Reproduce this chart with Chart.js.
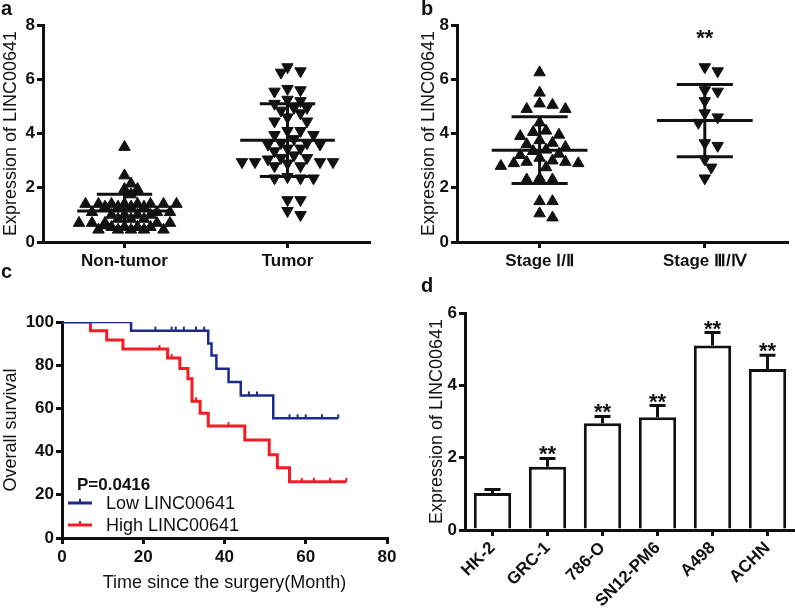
<!DOCTYPE html>
<html>
<head>
<meta charset="utf-8">
<script src="https://cdn.jsdelivr.net/npm/chart.js@4.4.1/dist/chart.umd.min.js"></script>
<style>
  html, body { margin: 0; padding: 0; background: #fff; }
  #wrap { position: relative; width: 795px; height: 614px; overflow: hidden; }
  canvas { position: absolute; }
  .tag { position: absolute; font: bold 20px "Liberation Sans", Arial, sans-serif; line-height: 1; color: #111; }
</style>
</head>
<body>
<div id="wrap">
  <canvas id="chartA" width="390" height="300" style="left:0;top:0"></canvas>
  <canvas id="chartB" width="395" height="300" style="left:400px;top:0"></canvas>
  <canvas id="chartC" width="400" height="309" style="left:0;top:305px"></canvas>
  <canvas id="chartD" width="395" height="324" style="left:400px;top:290px"></canvas>
  <div class="tag" style="left:1px;top:-2px">a</div>
  <div class="tag" style="left:421px;top:-2px">b</div>
  <div class="tag" style="left:1px;top:261px">c</div>
  <div class="tag" style="left:421px;top:275px">d</div>
</div>
<script>
// ---- data ----
const catsA = ["Non-tumor", "Tumor"];
const nonTumor = [3.5, 2.45, 2.15, 1.95, 1.95, 1.75,
  1.4, 1.4, 1.4, 1.4, 1.4, 1.4, 1.4, 1.4,
  1.3, 1.3, 1.3, 1.3, 1.1, 1.1, 1.1, 1.0, 1.0, 1.0, 1.0,
  0.85, 0.85, 0.85, 0.7, 0.7, 0.7, 0.7, 0.7,
  0.55, 0.55, 0.55, 0.55, 0.45, 0.45, 0.45, 0.45, 0.45];
const tumor = [6.45, 6.3, 6.25, 5.65, 5.55, 5.6, 5.2, 5.25, 5.1,
  4.95, 4.95, 4.85, 4.75, 4.6, 4.45, 4.45, 4.1, 4.1, 3.95, 3.95, 3.8,
  3.65, 3.65, 3.6, 3.6, 3.45, 3.45, 3.35, 3.2, 3.1, 3.1, 3.05,
  2.95, 2.95, 2.95, 2.95, 2.8, 2.8, 2.9, 2.4, 2.35, 2.35, 2.35,
  1.55, 1.55, 1.15, 1.0];

const catsB = ["Stage Ⅰ/Ⅱ", "Stage Ⅲ/Ⅳ"];
const stage12 = [6.25, 5.5, 5.1, 5.05, 4.9, 4.9, 4.4, 4.1, 4.05, 3.95,
  3.9, 3.75, 3.65, 3.6, 3.5, 3.4, 3.35, 3.25, 3.2, 3.1, 3.0,
  2.95, 2.95, 2.9, 2.9, 2.8, 2.75, 2.35, 2.3, 2.3, 1.5, 1.5, 1.05, 0.9];
const stage34 = [6.45, 6.3, 5.6, 5.55, 5.2, 4.75, 4.6, 4.4, 3.65, 3.55, 3.05, 2.75, 2.35];
const starsB = ["", "**"];

const lowTime = [0, 17, 36, 36.8, 38, 41, 44, 52, 68];
const lowSurv = [100, 96, 90.1, 84.5, 78.3, 72.2, 66, 55.4, 55.4];
const lowCensor = [23, 27, 28, 30, 33, 35, 46, 48, 56, 58, 60, 64, 68];
const highTime = [0, 7, 11, 15, 26, 29, 31, 32, 34, 36, 45, 51, 53, 56, 70];
const highSurv = [100, 96, 91.7, 87.5, 83.3, 78.5, 73.7, 63.3, 57.7, 51.8, 45.4, 38.5, 32.5, 26, 26];
const highCensor = [24, 27, 33, 41, 59, 62, 66, 70];
const pValue = "P=0.0416";

const cellLines = ["HK-2", "GRC-1", "786-O", "SN12-PM6", "A498", "ACHN"];
const cellMean = [1.02, 1.75, 2.95, 3.12, 5.1, 4.45];
const cellErr = [0.1, 0.23, 0.19, 0.32, 0.36, 0.38];
const cellStars = ["", "**", "**", "**", "**", "**"];

// ---- helpers ----
const FONT = '"Liberation Sans", Arial, Helvetica, sans-serif';
const INK = "#111";
Chart.defaults.font.family = FONT;
Chart.defaults.color = INK;

const mean = (a) => a.reduce((s, v) => s + v, 0) / a.length;
const sd = (a) => {
  const m = mean(a);
  return Math.sqrt(a.reduce((s, v) => s + (v - m) * (v - m), 0) / (a.length - 1));
};

// spread points sideways (dot plot); close values sit side by side,
// rows further apart than rowGap px may slot in half a step
function swarm(values, center, pxX, pxY, rowGap) {
  const placed = [];
  const step = 6.5;
  return [...values].sort((a, b) => b - a).map((v) => {
    for (let k = 0; k < 80; k++) {
      const off = k === 0 ? 0 : (k % 2 ? 1 : -1) * Math.ceil(k / 2) * step;
      const hit = placed.some((p) => {
        const dx = Math.abs(p.dx - off), dy = Math.abs(p.v - v) * pxY;
        return (dy < rowGap && dx < 12.5) || (dy < 9.5 && dx < 6.4);
      });
      if (!hit) {
        placed.push({ dx: off, v });
        return { x: center + off / pxX, y: v };
      }
    }
    return { x: center, y: v };
  });
}

function survAt(times, surv, t) {
  let s = surv[0];
  times.forEach((tt, i) => { if (tt <= t) s = surv[i]; });
  return s;
}

const axisBase = () => ({
  border: { color: INK, width: 3 },
  grid: { drawOnChartArea: false, color: INK, lineWidth: 3, tickLength: 6 },
  ticks: { color: INK, padding: 2, font: { size: 17, weight: "bold" } },
});

// mean +/- SD bars and significance stars for the dot plots
const meanSdPlugin = {
  id: "meanSd",
  afterDatasetsDraw(chart, args, opts) {
    const { ctx } = chart;
    const { x, y } = chart.scales;
    ctx.save();
    ctx.strokeStyle = INK;
    ctx.lineWidth = 3;
    const hline = (c, v, w) => {
      ctx.beginPath();
      ctx.moveTo(x.getPixelForValue(c - w), y.getPixelForValue(v));
      ctx.lineTo(x.getPixelForValue(c + w), y.getPixelForValue(v));
      ctx.stroke();
    };
    opts.groups.forEach((vals, i) => {
      const c = i + 1, m = mean(vals), s = sd(vals);
      hline(c, m, 0.29);
      hline(c, m + s, 0.17);
      hline(c, m - s, 0.17);
      ctx.beginPath();
      ctx.moveTo(x.getPixelForValue(c), y.getPixelForValue(m - s));
      ctx.lineTo(x.getPixelForValue(c), y.getPixelForValue(m + s));
      ctx.stroke();
      const star = opts.stars && opts.stars[i];
      if (star) {
        ctx.fillStyle = INK;
        ctx.font = "bold 22px " + FONT;
        ctx.textAlign = "center";
        ctx.textBaseline = "alphabetic";
        ctx.fillText(star, x.getPixelForValue(c), y.getPixelForValue(Math.max(...vals)) - 22);
      }
    });
    ctx.restore();
  },
};

function dotPlot(id, cats, groups, stars, rowGaps, areaW, padRight, yBoxW, titlePad) {
  const pxX = areaW / 2, pxY = 217 / 8;
  const xAxis = axisBase();
  const yAxis = axisBase();
  new Chart(document.getElementById(id), {
    type: "scatter",
    data: {
      datasets: groups.map((vals, i) => ({
        data: swarm(vals, i + 1, pxX, pxY, rowGaps[i]),
        pointStyle: "triangle",
        rotation: i === 0 ? 0 : 180,
        pointRadius: 6.6,
        backgroundColor: INK,
        borderColor: INK,
        borderWidth: 1,
      })),
    },
    options: {
      responsive: false,
      animation: false,
      layout: { padding: { top: 25, right: padRight, left: 0, bottom: 0 } },
      plugins: {
        legend: { display: false },
        tooltip: { enabled: false },
        meanSd: { groups, stars },
      },
      scales: {
        x: {
          ...xAxis,
          type: "linear",
          min: 0.5,
          max: 2.5,
          afterBuildTicks: (s) => { s.ticks = cats.map((c, i) => ({ value: i + 1 })); },
          ticks: { ...xAxis.ticks, padding: 3, callback: (v) => cats[v - 1] },
          afterFit: (s) => { s.height = 58; },
        },
        y: {
          ...yAxis,
          min: 0,
          max: 8,
          ticks: { ...yAxis.ticks, stepSize: 2 },
          title: { display: true, text: "Expression of LINC00641", color: INK, font: { size: 18 }, padding: { top: titlePad, bottom: 0 } },
          afterFit: (s) => { s.width = yBoxW; },
        },
      },
    },
    plugins: [meanSdPlugin],
  });
}

dotPlot("chartA", catsA, [nonTumor, tumor], null, [2, 4.5], 326, 21, 43, 0);
dotPlot("chartB", catsB, [stage12, stage34], starsB, [5.5, 5.5], 333, 5, 57, 18);

// ---- panel c: Kaplan-Meier ----
const BLUE = "#1c2a8e";
const RED = "#f21c24";

const kmLegend = {
  id: "kmLegend",
  afterDraw(chart, args, opts) {
    const { ctx, chartArea } = chart;
    const { left, bottom } = chartArea;
    ctx.save();
    ctx.fillStyle = INK;
    ctx.textBaseline = "middle";
    ctx.font = "bold 17px " + FONT;
    ctx.fillText(opts.pText, left + 15, bottom - 53);
    chart.data.datasets.filter((d) => d.label).forEach((d, i) => {
      const yy = bottom - 35 + i * 22;
      ctx.strokeStyle = d.borderColor;
      ctx.lineWidth = 3;
      ctx.beginPath();
      ctx.moveTo(left + 6, yy);
      ctx.lineTo(left + 30, yy);
      ctx.stroke();
      ctx.lineWidth = 2;
      ctx.beginPath();
      ctx.moveTo(left + 18, yy);
      ctx.lineTo(left + 18, yy - 4);
      ctx.stroke();
      ctx.fillStyle = INK;
      ctx.font = "18px " + FONT;
      ctx.fillText(d.label, left + 44, yy + 1);
    });
    ctx.restore();
  },
};

const kmLine = (label, times, surv, color, width) => ({
  type: "line",
  label,
  data: times.map((t, i) => ({ x: t, y: surv[i] })),
  stepped: true,
  borderColor: color,
  borderWidth: width,
  pointRadius: 0,
  fill: false,
});
const kmCensor = (times, surv, cens, color) => ({
  type: "scatter",
  data: cens.map((t) => ({ x: t, y: survAt(times, surv, t) })),
  pointStyle: "dash",
  rotation: 270,
  pointRadius: 4,
  borderColor: color,
  backgroundColor: color,
  borderWidth: 2,
});

const cX = axisBase();
const cY = axisBase();
new Chart(document.getElementById("chartC"), {
  type: "line",
  data: {
    datasets: [
      kmLine("Low LINC00641", lowTime, lowSurv, BLUE, 2.5),
      kmLine("High LINC00641", highTime, highSurv, RED, 3),
      kmCensor(lowTime, lowSurv, lowCensor, BLUE),
      kmCensor(highTime, highSurv, highCensor, RED),
    ],
  },
  options: {
    responsive: false,
    animation: false,
    layout: { padding: { top: 17, right: 13, left: 0, bottom: 0 } },
    plugins: {
      legend: { display: false },
      tooltip: { enabled: false },
      kmLegend: { pText: pValue },
    },
    scales: {
      x: {
        ...cX,
        type: "linear",
        min: 0,
        max: 80,
        ticks: { ...cX.ticks, stepSize: 20, padding: 3 },
        title: { display: true, text: "Time since the surgery(Month)", color: INK, font: { size: 18 }, padding: { top: 0, bottom: 20 } },
        afterFit: (s) => { s.height = 76; },
      },
      y: {
        ...cY,
        min: 0,
        max: 100,
        ticks: { ...cY.ticks, stepSize: 20 },
        title: { display: true, text: "Overall survival", color: INK, font: { size: 18 }, padding: { top: 0, bottom: 0 } },
        afterFit: (s) => { s.width = 62; },
      },
    },
  },
  plugins: [kmLegend],
});

// ---- panel d: bars with error bars ----
const errorBars = {
  id: "errorBars",
  afterDatasetsDraw(chart) {
    const { ctx } = chart;
    const y = chart.scales.y;
    const meta = chart.getDatasetMeta(0);
    ctx.save();
    ctx.strokeStyle = INK;
    ctx.fillStyle = INK;
    meta.data.forEach((bar, i) => {
      const top = y.getPixelForValue(cellMean[i]);
      const hi = y.getPixelForValue(cellMean[i] + cellErr[i]);
      ctx.lineWidth = 3;
      ctx.beginPath();
      ctx.moveTo(bar.x, top);
      ctx.lineTo(bar.x, hi);
      ctx.moveTo(bar.x - 8, hi);
      ctx.lineTo(bar.x + 8, hi);
      ctx.stroke();
      if (cellStars[i]) {
        ctx.font = "bold 22px " + FONT;
        ctx.textAlign = "center";
        ctx.textBaseline = "alphabetic";
        ctx.fillText(cellStars[i], bar.x, hi + 3);
      }
    });
    ctx.restore();
  },
};

const dX = axisBase();
const dY = axisBase();
new Chart(document.getElementById("chartD"), {
  type: "bar",
  data: {
    labels: cellLines,
    datasets: [{
      data: cellMean,
      backgroundColor: "#fff",
      borderColor: INK,
      borderWidth: 3,
      barPercentage: 0.68,
      categoryPercentage: 1,
    }],
  },
  options: {
    responsive: false,
    animation: false,
    layout: { padding: { top: 23, right: 0, left: 0, bottom: 0 } },
    plugins: { legend: { display: false }, tooltip: { enabled: false } },
    scales: {
      x: {
        ...dX,
        grid: { ...dX.grid, offset: false },
        ticks: { ...dX.ticks, autoSkip: false, minRotation: 45, maxRotation: 45, padding: 2 },
        afterFit: (s) => { s.height = 84; },
      },
      y: {
        ...dY,
        min: 0,
        max: 6,
        ticks: { ...dY.ticks, stepSize: 2 },
        title: { display: true, text: "Expression of LINC00641", color: INK, font: { size: 18 }, padding: { top: 26, bottom: 0 } },
        afterFit: (s) => { s.width = 65; },
      },
    },
  },
  plugins: [errorBars],
});
</script>
</body>
</html>
